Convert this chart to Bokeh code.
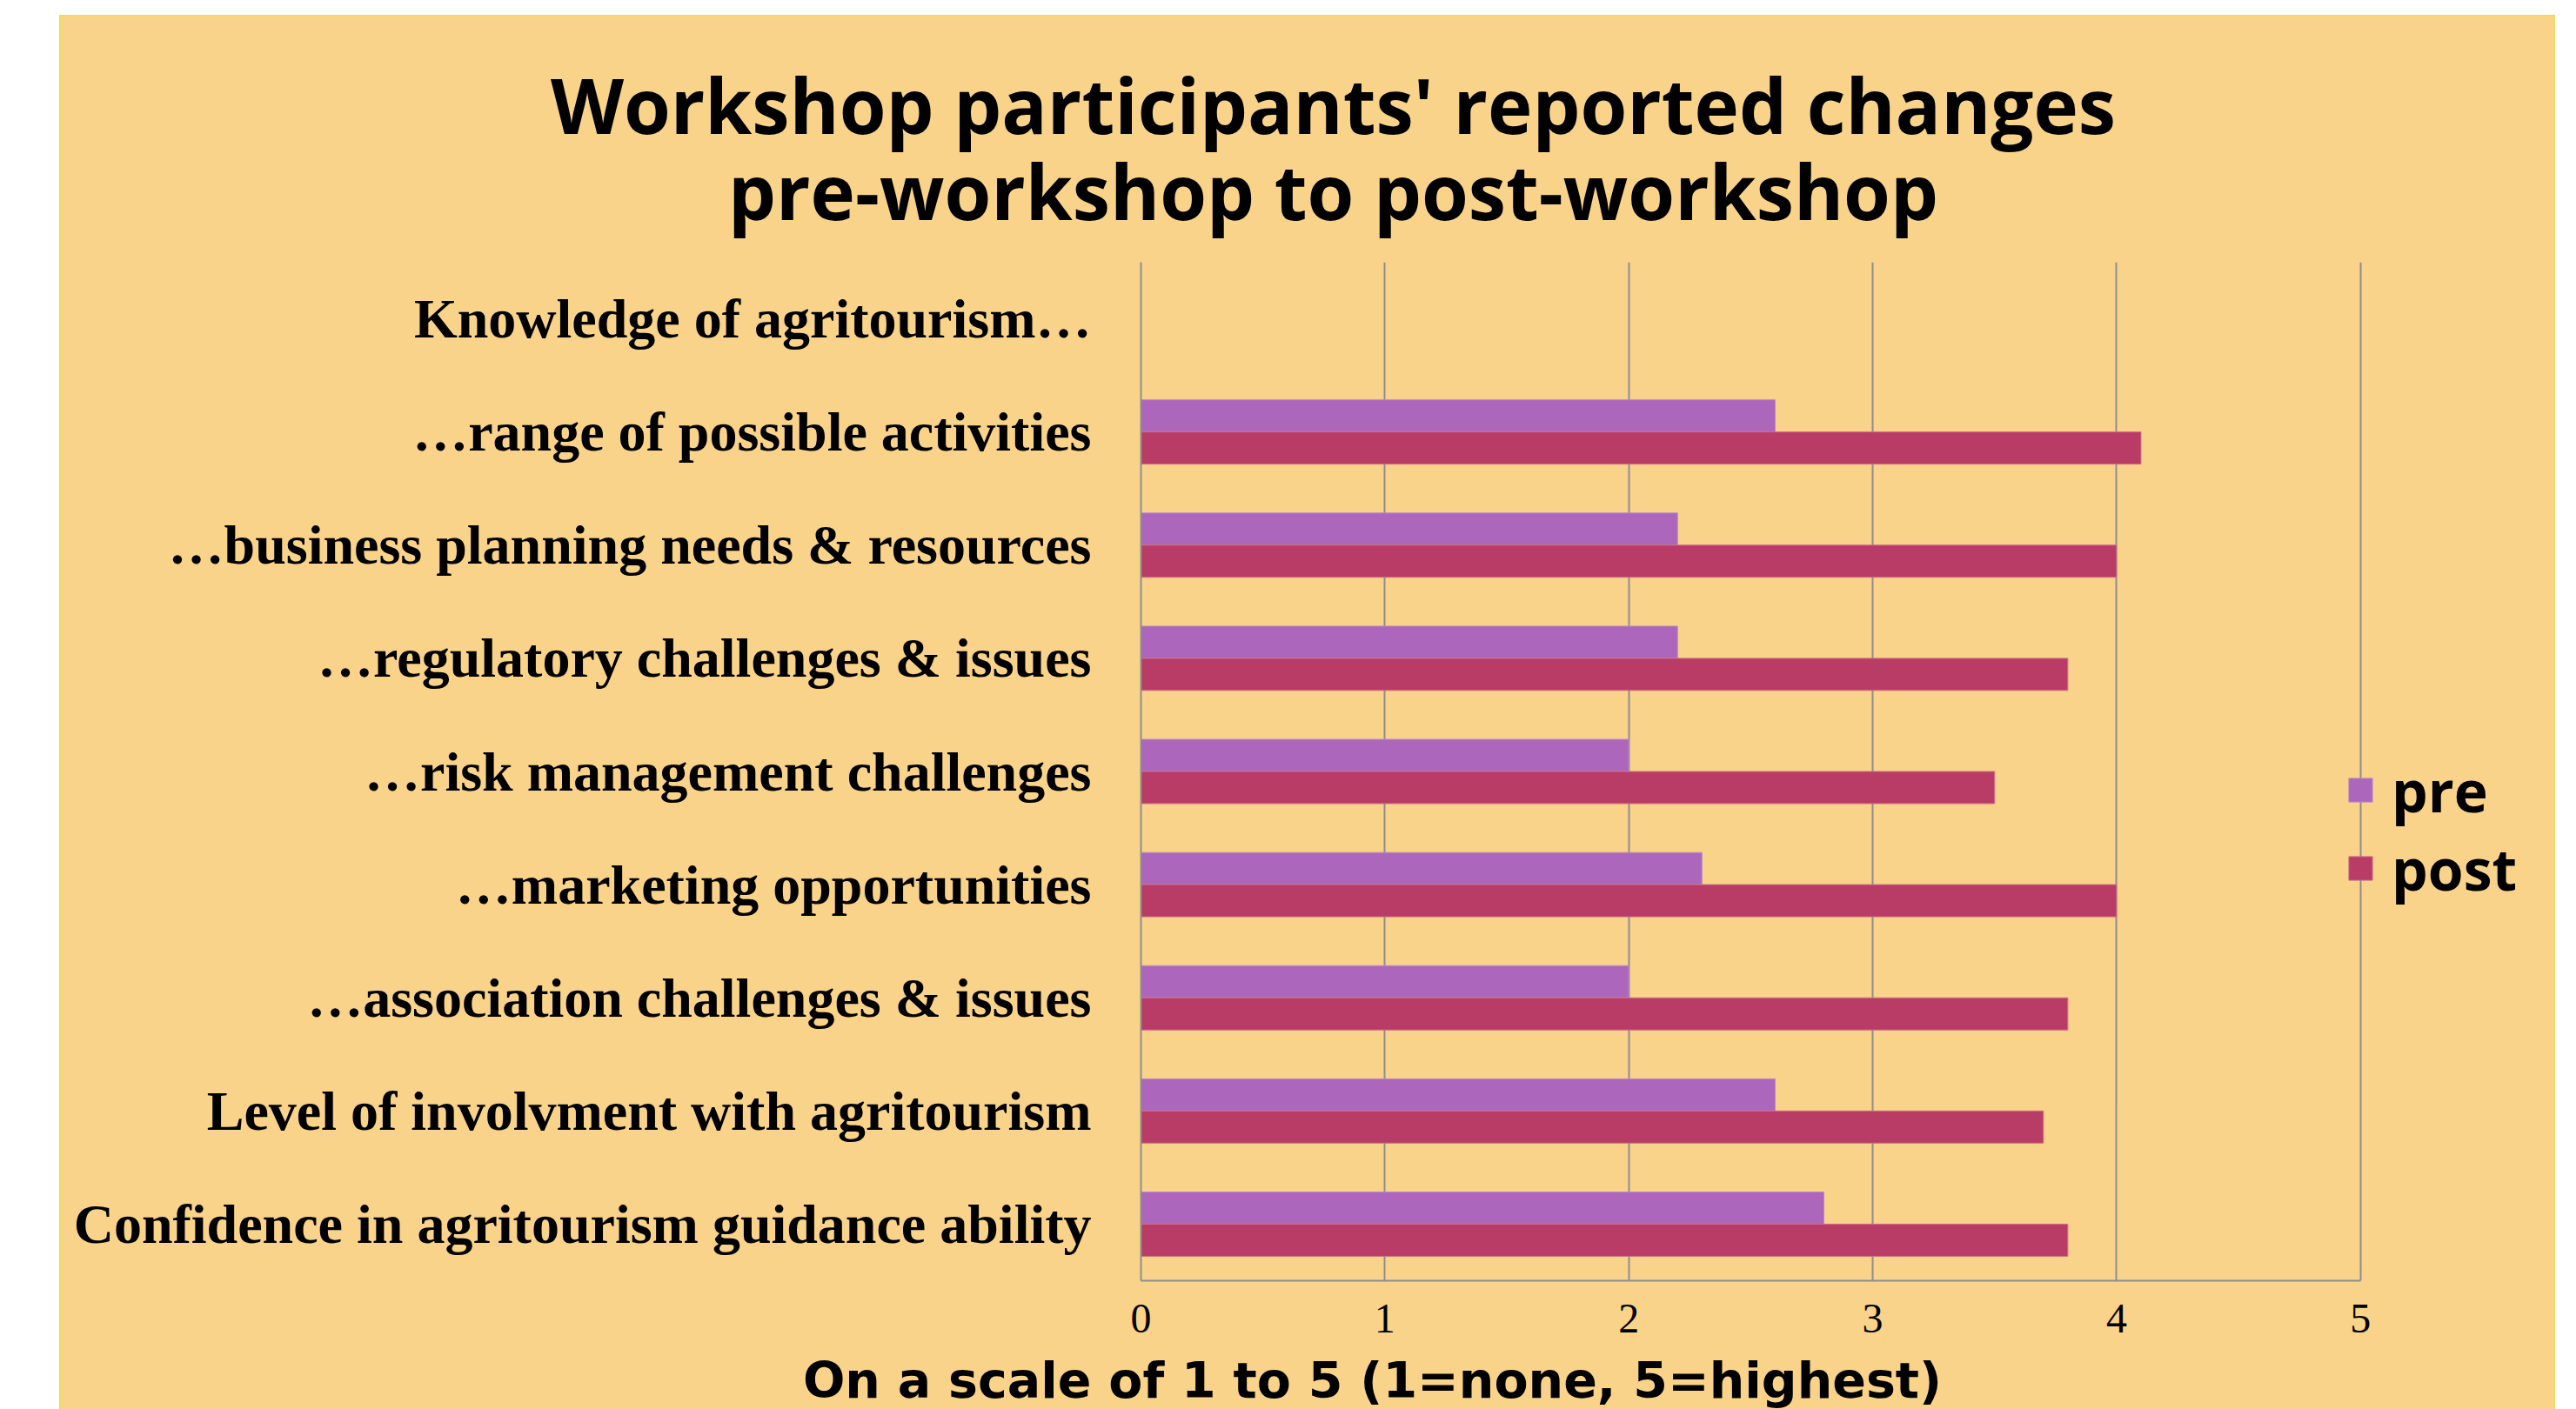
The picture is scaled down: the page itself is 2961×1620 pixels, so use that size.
from bokeh.plotting import figure
from bokeh.layouts import column
from bokeh.models import (FactorRange, Range1d, FixedTicker, Label, Legend, LegendItem,
                          ColumnDataSource)
from bokeh.transform import dodge
from bokeh.embed import file_html
from bokeh.resources import INLINE

# ---------------- data ----------------
header = "Knowledge of agritourism…"
categories = [
    "…range of possible activities",
    "…business planning needs & resources",
    "…regulatory challenges & issues",
    "…risk management challenges",
    "…marketing opportunities",
    "…association challenges & issues",
    "Level of involvment with agritourism",
    "Confidence in agritourism guidance ability",
]
pre = [2.6, 2.2, 2.2, 2.0, 2.3, 2.0, 2.6, 2.8]
post = [4.1, 4.0, 3.8, 3.5, 4.0, 3.8, 3.7, 3.8]
x_ticks = [0, 1, 2, 3, 4, 5]
title_lines = ["Workshop participants' reported changes", "pre-workshop to post-workshop"]
x_title = "On a scale of 1 to 5 (1=none, 5=highest)"
series_names = ["pre", "post"]

# ---------------- style ----------------
BG = "#F9D38A"
PRE_C = "#AC67BD"
POST_C = "#B83C66"
GRID_C = "#8E8E8E"
SANS = "Open Sans"
SERIF = "Liberation Serif"

W = 2865
TOP_H = 282
UNIT = 280.35                       # px per scale unit
X_END = 5.7                         # frame extends a bit past 5 (room for legend)
FRAME_W, FRAME_H = round(UNIT * X_END), 1171
LEFT_B, BOTTOM_B = 1241, 81
RIGHT_B = W - LEFT_B - FRAME_W
XT_H = 67


def no_align(f):
    if "frame_align" in f.properties():
        f.frame_align = False
    return f


def bare(height):
    f = figure(width=W, height=height, x_range=Range1d(0, W), y_range=Range1d(0, height),
               output_backend="svg", toolbar_location=None,
               x_axis_location=None, y_axis_location=None,
               background_fill_color=None, border_fill_color=BG, outline_line_color=None,
               min_border=0)
    f.grid.visible = False
    return no_align(f)


# ---- title block ----
tfig = bare(TOP_H)
tfig.add_layout(Label(x=1462, y=182, text=title_lines[0], text_align="center",
                      text_baseline="alphabetic", text_font=SANS, text_font_size="87px",
                      text_font_style="bold", text_color="black"))
tfig.add_layout(Label(x=1462, y=83, text=title_lines[1], text_align="center",
                      text_baseline="alphabetic", text_font=SANS, text_font_size="87px",
                      text_font_style="bold", text_color="black"))

# ---- main chart ----
factors = list(reversed([header] + categories))  # bottom-to-top
src = ColumnDataSource(dict(cat=categories, pre=pre, post=post))

p = figure(
    y_range=FactorRange(factors=factors, range_padding=0),
    x_range=Range1d(0, X_END),
    width=W, frame_height=FRAME_H,
    min_border_left=LEFT_B, min_border_right=RIGHT_B,
    min_border_top=0, min_border_bottom=BOTTOM_B,
    output_backend="svg", toolbar_location=None,
    background_fill_color=None, border_fill_color=BG,
    outline_line_color=None,
)
no_align(p)

bar_h = 0.284
r_pre = p.hbar(y=dodge("cat", 0.142, range=p.y_range), right="pre", left=0, height=bar_h,
               source=src, fill_color=PRE_C, line_color="#B98AC6", line_width=1)
r_post = p.hbar(y=dodge("cat", -0.142, range=p.y_range), right="post", left=0, height=bar_h,
                source=src, fill_color=POST_C, line_color="#CC6F86", line_width=1)

p.xaxis.ticker = FixedTicker(ticks=x_ticks)
p.xaxis.bounds = (x_ticks[0], x_ticks[-1])
p.xaxis.major_label_text_font = SERIF
p.xaxis.major_label_text_font_size = "48px"
p.xaxis.major_label_text_color = "black"
p.xaxis.major_label_standoff = 27
p.xaxis.major_tick_out = 0
p.xaxis.major_tick_in = 0
p.xaxis.minor_tick_out = 0
p.xaxis.minor_tick_in = 0
p.xaxis.axis_line_color = GRID_C
p.xaxis.axis_line_width = 2

p.yaxis.major_label_text_font = SERIF
p.yaxis.major_label_text_font_size = "64px"
p.yaxis.major_label_text_font_style = "bold"
p.yaxis.major_label_text_color = "black"
p.yaxis.major_label_standoff = 57
p.yaxis.major_tick_out = 0
p.yaxis.major_tick_in = 0
p.yaxis.axis_line_color = GRID_C
p.yaxis.axis_line_width = 2

p.xgrid.grid_line_color = GRID_C
p.xgrid.grid_line_width = 2
p.ygrid.grid_line_color = None

legend = Legend(items=[LegendItem(label=series_names[0], renderers=[r_pre]),
                       LegendItem(label=series_names[1], renderers=[r_post])],
                location=(1385, 429), padding=0, margin=0, spacing=0,
                glyph_width=34, glyph_height=34, label_standoff=19,
                label_text_font=SANS, label_text_font_size="66px",
                label_text_font_style="bold", label_text_color="black",
                background_fill_alpha=0, border_line_color=None)
p.add_layout(legend)

# ---- x-axis title block ----
xfig = bare(XT_H)
xfig.add_layout(Label(x=1507, y=33.5, text=x_title, text_align="center",
                      text_baseline="alphabetic", text_font="DejaVu Sans",
                      text_font_size="57px", text_font_style="bold", text_color="black"))

layout = column(tfig, p, xfig, spacing=0)
layout.margin = (19, 0, 0, 70)
layout.styles = {"background-color": BG, "outline": "2px solid #F2DA60"}

open("out.html", "w").write(file_html(layout, INLINE))
